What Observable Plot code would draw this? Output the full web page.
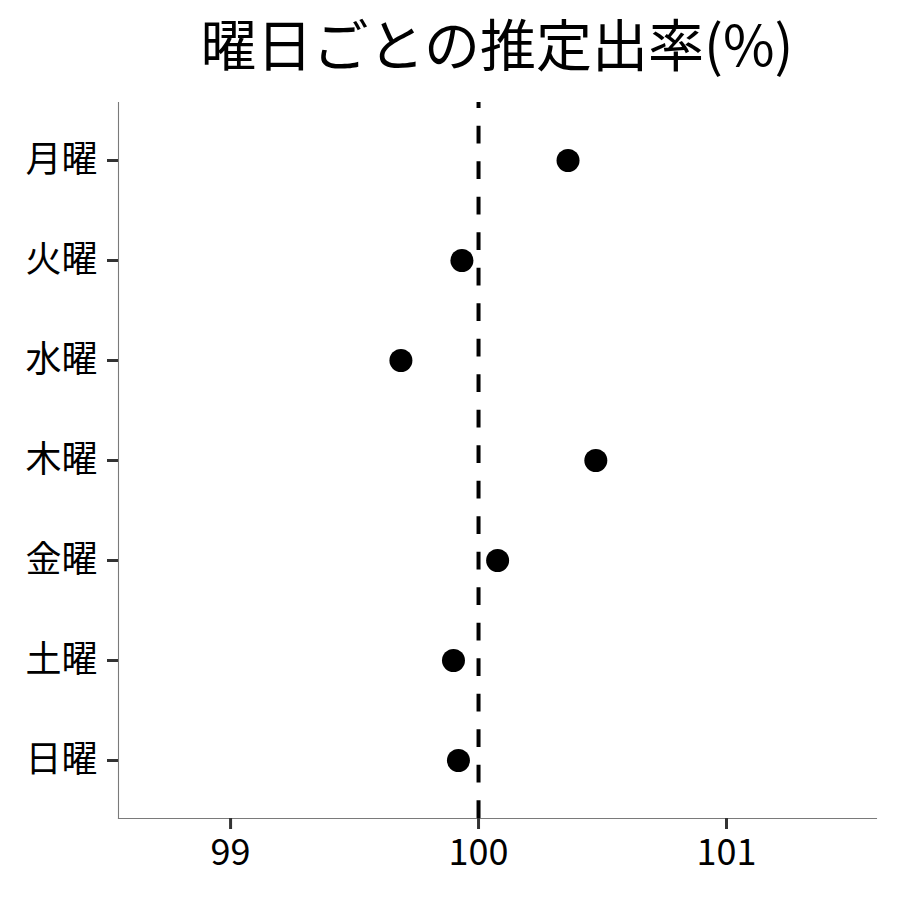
<!DOCTYPE html>
<html>
<head>
<meta charset="utf-8">
<script src="https://cdn.jsdelivr.net/npm/d3@7"></script>
<script src="https://cdn.jsdelivr.net/npm/@observablehq/plot@0.6"></script>
<style>
  body { margin: 0; background: #fff; }
  #title {
    font-family: "Noto Sans CJK JP", sans-serif;
    font-size: 56px;
    height: 90px;
    line-height: 84px;
    box-sizing: border-box;
    padding-left: 94px;
    width: 900px;
    text-align: center;
    color: #000;
    white-space: nowrap;
  }
  svg text { font-family: "Noto Sans CJK JP", sans-serif; }
</style>
</head>
<body>
<div id="title">曜日ごとの推定出率(%)</div>
<div id="chart"></div>
<script>
const titleText = "曜日ごとの推定出率(%)";
const days = ["月曜", "火曜", "水曜", "木曜", "金曜", "土曜", "日曜"];
const rates = [100.361, 99.933, 99.687, 100.473, 100.077, 99.899, 99.919];
const xTicks = [99, 100, 101];
const refValue = 100;
const xDomain = [98.548, 101.605];

const data = days.map((d, i) => ({day: days[i], rate: rates[i]}));

document.getElementById("title").textContent = titleText;

const chart = Plot.plot({
  width: 900,
  height: 810,
  marginTop: 12,
  marginBottom: 82,
  marginLeft: 118,
  marginRight: 24,
  style: {fontFamily: "Noto Sans CJK JP", fontSize: "36px", color: "#000", background: "#fff"},
  x: {domain: xDomain, ticks: xTicks, label: null},
  y: {type: "point", domain: days, padding: 0.58, label: null},
  marks: [
    Plot.frame({anchor: "left", stroke: "#7a7a7a", strokeWidth: 1.1}),
    Plot.frame({anchor: "bottom", stroke: "#7a7a7a", strokeWidth: 1.1}),
    Plot.axisX({ticks: xTicks, tickFormat: d3.format("d"), tickSize: 11, tickPadding: 10, stroke: "#333", strokeWidth: 3, fill: "#000", fontSize: 36, label: null}),
    Plot.axisY({tickSize: 11, tickPadding: 10, stroke: "#333", strokeWidth: 3, fill: "#000", fontSize: 36, label: null}),
    Plot.ruleX([refValue], {stroke: "#000", strokeWidth: 4, strokeDasharray: "17.75,17.75", strokeDashoffset: 11.75}),
    Plot.dot(data, {x: "rate", y: "day", r: 11.5, fill: "#000", stroke: "none"})
  ]
});
document.getElementById("chart").appendChild(chart);
</script>
</body>
</html>
